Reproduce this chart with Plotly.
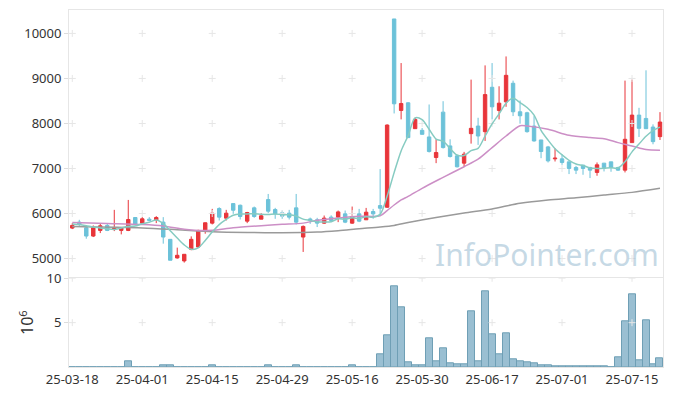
import plotly.graph_objects as go

DATES = ["25-03-18","25-03-19","25-03-20","25-03-21","25-03-24","25-03-25","25-03-26","25-03-27","25-03-28","25-03-31",
         "25-04-01","25-04-02","25-04-03","25-04-04","25-04-07","25-04-08","25-04-09","25-04-10","25-04-11","25-04-14",
         "25-04-15","25-04-16","25-04-17","25-04-18","25-04-21","25-04-22","25-04-23","25-04-24","25-04-25","25-04-28",
         "25-04-29","25-04-30","25-05-02","25-05-07","25-05-08","25-05-09","25-05-12","25-05-13","25-05-14","25-05-15",
         "25-05-16","25-05-19","25-05-20","25-05-21","25-05-22","25-05-23","25-05-26","25-05-27","25-05-28","25-05-29",
         "25-05-30","25-06-02","25-06-04","25-06-05","25-06-09","25-06-10","25-06-11","25-06-12","25-06-13","25-06-16",
         "25-06-17","25-06-18","25-06-19","25-06-20","25-06-23","25-06-24","25-06-25","25-06-26","25-06-27","25-06-30",
         "25-07-01","25-07-02","25-07-03","25-07-04","25-07-07","25-07-08","25-07-09","25-07-10","25-07-11","25-07-14",
         "25-07-15","25-07-16","25-07-17","25-07-18","25-07-21"]

OPEN = [5677,5809,5684,5500,5625,5736,5654,5625,5625,5912,
        5787,5875,5860,5809,5427,5014,4948,5206,5257,5610,
        5787,6111,5898,6221,6184,5831,6126,5875,6310,6089,
        6015,6008,6126,5478,5880,5861,5787,5920,5920,5993,
        5787,5993,5861,6045,6177,6140,10321,8289,8459,7885,
        7848,7701,7244,8252,7502,7281,7119,7774,7943,7818,
        8804,8289,8480,8893,8260,8238,7943,7634,7480,7215,
        7215,7148,7023,7075,7023,6913,7119,7148,7023,6964,
        7575,8186,8112,7921,7708]
HIGH = [5787,5861,5714,5736,5772,5787,6082,5690,6302,5920,
        5920,5920,5942,5920,5427,5243,5095,5493,5640,5800,
        6104,6140,6082,6221,6199,6037,6155,6008,6435,6126,
        6067,6082,6435,5736,5910,5905,5956,5960,6067,6067,
        6155,6103,6125,6103,6987,7980,10321,9342,8473,8127,
        7900,8422,7649,8495,7649,7296,7369,8974,8127,9290,
        9342,8826,9489,8952,8510,8260,8164,7634,7502,7450,
        7318,7148,7060,7075,7038,7134,7119,7148,7038,8952,
        8974,8348,9180,7980,8252]
LOW = [5655,5714,5441,5478,5566,5610,5610,5537,5610,5736,
       5772,5830,5787,5331,4963,4999,4911,5184,5243,5552,
       5758,5846,5846,5993,5868,5787,5905,5875,6008,5883,
       5883,5868,5758,5147,5770,5700,5772,5810,5809,5787,
       5772,5809,5861,5883,5993,6125,8223,8091,7686,7885,
       7759,7355,7119,7443,7244,7023,7038,7553,7524,7612,
       8090,8090,8370,8164,7995,7796,7597,7229,7134,7156,
       7082,6876,6876,6861,6788,6839,6935,6928,6950,6913,
       7575,7700,7884,7538,7634]
CLOSE = [5736,5758,5500,5684,5728,5625,5684,5677,5868,5758,
         5883,5850,5912,5478,4963,5073,5095,5427,5625,5795,
         6008,5920,6008,6074,5934,6023,5934,5949,6052,5993,
         5942,5920,5809,5714,5850,5787,5898,5846,6037,5809,
         5934,5831,6030,5993,6118,7965,8437,8444,7686,8091,
         7759,7377,7355,7465,7266,7038,7318,7892,7722,8642,
         8370,8451,9069,8260,8171,7818,7612,7377,7170,7229,
         7134,7001,6964,7001,6964,7082,7023,7023,6964,7649,
         8186,7892,7884,7597,8032]

# volume in millions of shares
VOLUME = [0,0,0,0,0,0,0,0,0.6,0,
          0,0,0,0.15,0.15,0,0,0,0,0,
          0.15,0,0,0,0,0,0,0,0.15,0,
          0,0,0.15,0,0,0,0,0,0,0,
          0.15,0,0,0,1.47,3.58,9.13,6.75,0.53,0.19,
          0.19,3.25,0.64,2.11,0.42,0.30,0.30,6.30,0.64,8.57,
          3.70,1.43,3.81,0.91,0.68,0.53,0.45,0.23,0.23,0.11,
          0.11,0.11,0.11,0.11,0.11,0.11,0.11,0.02,1.09,5.20,
          8.23,0.79,5.28,0.30,1.02]

MA5 = [5770,5755,5730,5700,5681,5659,5644,5680,5716,5722,
       5774,5807,5854,5776,5617,5455,5304,5207,5237,5403,
       5590,5755,5871,5961,5989,5992,5995,5983,5978,5990,
       5974,5971,5943,5876,5847,5816,5812,5819,5884,5875,
       5905,5891,5928,5919,5981,6387,6909,7391,7730,8125,
       8083,7871,7654,7609,7444,7300,7288,7396,7447,7722,
       7989,8215,8451,8558,8464,8354,8186,7848,7630,7441,
       7304,7182,7100,7066,7013,7002,7007,7019,7011,7148,
       7369,7543,7715,7842,7918]

MA20_IDX = [0,5,10,13,16,18,20,23,27,30,33,35,38,41,44,45,46,47,48,50,53,56,58,60,62,64,65,68,71,74,76,78,80,82,84]
MA20_VAL = [5800,5780,5757,5725,5650,5625,5630,5684,5730,5760,5787,5850,5900,5940,5950,6066,6190,6302,6380,6560,6803,7040,7207,7465,7722,7950,7943,7870,7737,7686,7663,7575,7502,7420,7406]

MA60_IDX = [0,10,15,20,25,30,35,38,41,44,46,48,52,56,60,64,68,72,76,80,84]
MA60_VAL = [5710,5680,5640,5595,5578,5575,5590,5620,5662,5700,5736,5800,5910,6010,6103,6228,6302,6350,6410,6470,6560]

TICK_IDX = [0,10,20,30,40,50,60,70,80]
PRICE_TICKS = [5000,6000,7000,8000,9000,10000]
PRICE_LABELS = ["5000","6000","7000","8000","9000","10000"]
VOL_TICKS = [5,10]

UP = "#e8353a"
DOWN = "#6cc2d9"
FONT = "Noto Sans"

fig = go.Figure()

tick_dates = [DATES[i] for i in TICK_IDX]
# grid crosses
gx, gy = [], []
for d in tick_dates:
    for p in PRICE_TICKS:
        gx.append(d); gy.append(p)
fig.add_trace(go.Scatter(x=gx, y=gy, mode="markers", hoverinfo="skip",
                         marker=dict(symbol="cross-thin", size=5, line=dict(width=1, color="#e6e6e6")),
                         xaxis="x", yaxis="y"))
vx, vy = [], []
for d in tick_dates:
    for p in VOL_TICKS:
        vx.append(d); vy.append(p)
fig.add_trace(go.Scatter(x=vx, y=vy, mode="markers", hoverinfo="skip",
                         marker=dict(symbol="cross-thin", size=5, line=dict(width=1, color="#e6e6e6")),
                         xaxis="x2", yaxis="y2"))

fig.add_trace(go.Candlestick(x=DATES, open=OPEN, high=HIGH, low=LOW, close=CLOSE,
                             increasing=dict(line=dict(color=UP, width=1), fillcolor=UP),
                             decreasing=dict(line=dict(color=DOWN, width=1), fillcolor=DOWN),
                             whiskerwidth=0, xaxis="x", yaxis="y"))

fig.add_trace(go.Scatter(x=[DATES[i] for i in MA60_IDX], y=MA60_VAL, mode="lines",
                         line=dict(color="#9a9a9a", width=1.5, shape="spline", smoothing=0.8),
                         hoverinfo="skip", xaxis="x", yaxis="y"))
fig.add_trace(go.Scatter(x=[DATES[i] for i in MA20_IDX], y=MA20_VAL, mode="lines",
                         line=dict(color="#cc8fc6", width=1.5, shape="spline", smoothing=0.8),
                         hoverinfo="skip", xaxis="x", yaxis="y"))
fig.add_trace(go.Scatter(x=DATES, y=MA5, mode="lines",
                         line=dict(color="#86cbc1", width=1.5, shape="spline", smoothing=0.8),
                         hoverinfo="skip", xaxis="x", yaxis="y"))

fig.add_trace(go.Bar(x=DATES, y=VOLUME, marker=dict(color="rgba(120,170,195,0.75)",
                                                    line=dict(color="#6f9fb5", width=1)),
                     hoverinfo="skip", xaxis="x2", yaxis="y2"))

fig.add_annotation(text="InfoPointer.com", xref="paper", yref="paper", x=0.997, y=0.315,
                   xanchor="right", yanchor="middle", showarrow=False,
                   font=dict(family=FONT, size=30, color="rgba(160,192,212,0.6)"))

axis_common = dict(showline=True, linecolor="#e6e6e6", linewidth=1, mirror=True,
                   showgrid=False, zeroline=False, automargin=False)

xr = [-0.47, 84.43]
# page body has an 8px default margin, so the figure is sized to fit inside it
fig.update_layout(
    width=657, height=380,
    margin=dict(l=61, r=2, t=2, b=21),
    paper_bgcolor="white", plot_bgcolor="white",
    showlegend=False,
    bargap=0.0,
    font=dict(family=FONT, size=13, color="#333333"),
    xaxis=dict(domain=[0, 1], anchor="y", type="category", categoryorder="array",
               categoryarray=DATES, range=xr, showticklabels=False, ticks="",
               rangeslider=dict(visible=False), **axis_common),
    yaxis=dict(domain=[0.252, 1], anchor="x", range=[4590, 10520],
               tickvals=PRICE_TICKS, ticktext=PRICE_LABELS, ticks="outside", ticklen=4,
               tickcolor="#dddddd", **axis_common),
    xaxis2=dict(domain=[0, 1], anchor="y2", type="category", categoryorder="array",
                categoryarray=DATES, range=xr, matches="x",
                tickvals=tick_dates, ticktext=tick_dates, ticks="",
                **axis_common),
    yaxis2=dict(domain=[0, 0.2485], anchor="x2", range=[0, 10],
                tickvals=VOL_TICKS, ticks="outside", ticklen=4, tickcolor="#dddddd",
                title=dict(text="10<sup>6</sup>", standoff=8), **axis_common),
)

fig.write_html("out.html")
